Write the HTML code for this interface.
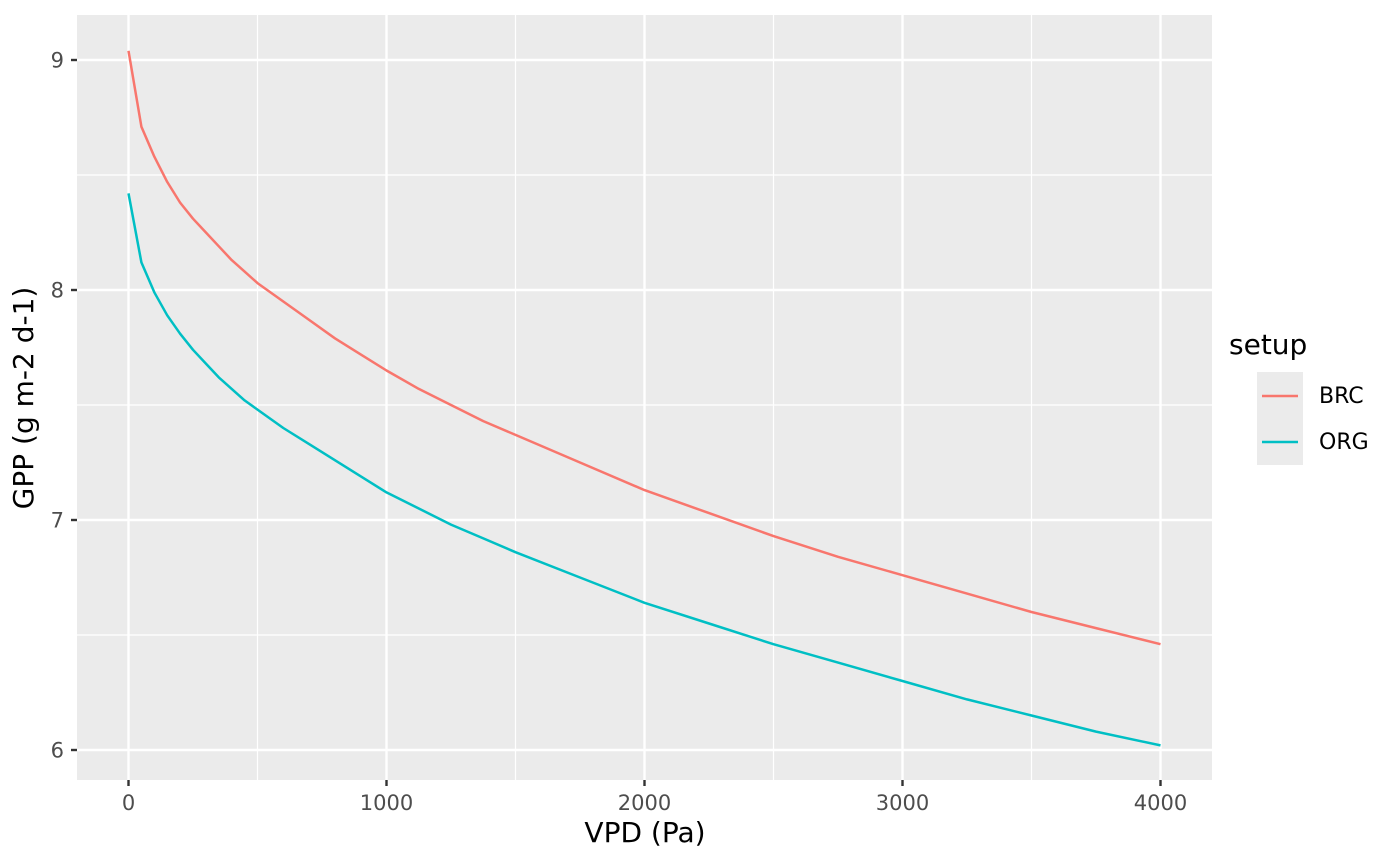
<!DOCTYPE html>
<html><head><meta charset="utf-8"><style>
body{margin:0;background:#fff}
svg{display:block;font-family:"DejaVu Sans","Liberation Sans",sans-serif}
</style></head><body>
<svg id="chart" width="1400" height="865" viewBox="0 0 1400 865" xmlns="http://www.w3.org/2000/svg">
<rect x="77" y="15" width="1135" height="765" fill="#ebebeb"/>
<g id="grid"></g><g id="series"></g><g id="axes"></g>
<text x="645" y="842" font-size="28" text-anchor="middle" fill="#000">VPD (Pa)</text>
<text transform="translate(33,398) rotate(-90)" font-size="28" text-anchor="middle" fill="#000">GPP (g m-2 d-1)</text>
<g>
<text x="1229" y="354" font-size="28" fill="#000">setup</text>
<rect x="1257" y="372" width="46" height="93" fill="#ebebeb"/>
<line x1="1262" y1="396" x2="1298" y2="396" stroke="#F8766D" stroke-width="2.5"/>
<line x1="1262" y1="442" x2="1298" y2="442" stroke="#00BFC4" stroke-width="2.5"/>
<text x="1319" y="403" font-size="22" fill="#000">BRC</text>
<text x="1319" y="449" font-size="22" fill="#000">ORG</text>
</g>
</svg>
<script>
const vpd = [0,50,100,150,200,250,300,350,400,450,500,600,700,800,900,1000,1125,1250,1375,1500,1750,2000,2250,2500,2750,3000,3250,3500,3750,4000];
const brc = [9.04,8.71,8.58,8.47,8.38,8.31,8.25,8.19,8.13,8.08,8.03,7.95,7.87,7.79,7.72,7.65,7.57,7.50,7.43,7.37,7.25,7.13,7.03,6.93,6.84,6.76,6.68,6.60,6.53,6.46];
const org = [8.42,8.12,7.99,7.89,7.81,7.74,7.68,7.62,7.57,7.52,7.48,7.40,7.33,7.26,7.19,7.12,7.05,6.98,6.92,6.86,6.75,6.64,6.55,6.46,6.38,6.30,6.22,6.15,6.08,6.02];
const xTicks = [0,1000,2000,3000,4000];
const yTicks = [6,7,8,9];
const xMinor = [500,1500,2500,3500];
const yMinor = [6.5,7.5,8.5];
const NS='http://www.w3.org/2000/svg';
const X = v => 128.5 + v*0.258;
const Y = v => 750 - (v-6)*230;
function mk(tag, attrs, parent){const e=document.createElementNS(NS,tag);for(const k in attrs)e.setAttribute(k,attrs[k]);parent.appendChild(e);return e;}
const grid=document.getElementById('grid'), axes=document.getElementById('axes'), series=document.getElementById('series');
xMinor.forEach(v=>{const l=mk('line',{x1:X(v),x2:X(v),y1:15,y2:780,stroke:'#fff','stroke-width':1.2},grid);

});
yMinor.forEach(v=>{const l=mk('line',{x1:77,x2:1212,y1:Y(v),y2:Y(v),stroke:'#fff','stroke-width':1.2},grid);

});
xTicks.forEach(v=>{const l=mk('line',{x1:X(v),x2:X(v),y1:15,y2:780,stroke:'#fff','stroke-width':2.4},grid);


const t=mk('line',{x1:X(v),x2:X(v),y1:780,y2:786,stroke:'#333','stroke-width':2.4},axes);


const tx=mk('text',{x:X(v),y:810,'font-size':21,'text-anchor':'middle',fill:'#4d4d4d'},axes);tx.textContent=v;

});
yTicks.forEach(v=>{const l=mk('line',{x1:77,x2:1212,y1:Y(v),y2:Y(v),stroke:'#fff','stroke-width':2.4},grid);


const t=mk('line',{x1:71,x2:77,y1:Y(v),y2:Y(v),stroke:'#333','stroke-width':2.4},axes);


const tx=mk('text',{x:64,y:Y(v)+7.5,'font-size':21,'text-anchor':'end',fill:'#4d4d4d'},axes);tx.textContent=v;

});
function line(vals,color,name){const d=vpd.map((v,i)=>(i?'L':'M')+X(v).toFixed(1)+','+Y(vals[i]).toFixed(1)).join('');
const p=mk('path',{d:d,fill:'none',stroke:color,'stroke-width':2.5,'stroke-linejoin':'round'},series);

}
line(brc,'#F8766D','brc-line');
line(org,'#00BFC4','org-line');
</script>
</body></html>
